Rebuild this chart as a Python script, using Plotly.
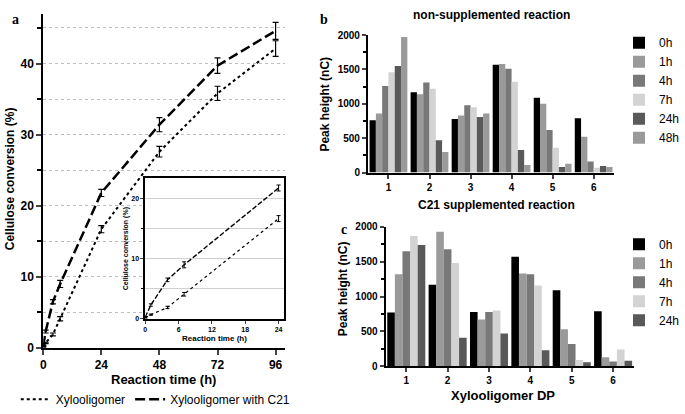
import plotly.graph_objects as go

W, H = 685, 414

# ---- Panel a data ----
time_h = [0, 1, 4, 7, 24, 48, 72, 96]
xylo = [0.2, 0.7, 1.9, 4.1, 16.7, 27.6, 35.8, 42.1]
xylo_err = [0.1, 0.1, 0.2, 0.3, 0.5, 0.75, 1.0, 1.1]
c21 = [0.3, 2.3, 6.5, 9.0, 21.8, 31.4, 39.7, 44.6]
c21_err = [0.1, 0.2, 0.3, 0.5, 0.5, 1.0, 1.1, 1.2]
inset_max_time = 24

# ---- Panel b / c data ----
dp = [1, 2, 3, 4, 5, 6]
b_series = ["0h", "1h", "4h", "7h", "24h", "48h"]
b_values = {
    "0h": [760, 1170, 780, 1570, 1090, 790],
    "1h": [860, 1140, 830, 1580, 1000, 520],
    "4h": [1260, 1310, 980, 1510, 620, 160],
    "7h": [1460, 1220, 950, 1320, 360, 70],
    "24h": [1550, 470, 810, 330, 80, 95],
    "48h": [1970, 300, 860, 110, 130, 80],
}
c_series = ["0h", "1h", "4h", "7h", "24h"]
c_values = {
    "0h": [770, 1170, 780, 1570, 1090, 790],
    "1h": [1320, 1930, 670, 1330, 530, 130],
    "4h": [1650, 1680, 780, 1320, 320, 70],
    "7h": [1870, 1480, 800, 1160, 90, 240],
    "24h": [1740, 410, 470, 230, 60, 80],
}
colors = {"0h": "#000000", "1h": "#9a9a9a", "4h": "#787878", "7h": "#d3d3d3",
          "24h": "#595959", "48h": "#9a9a9a"}

FONT = "Liberation Sans, Arial, sans-serif"

def px(x):
    return x / W

def py(y):
    return 1 - y / H

fig = go.Figure()

# main panel a
fig.add_trace(go.Scatter(x=time_h, y=xylo, mode="lines", name="Xylooligomer",
                         line=dict(color="black", width=2, dash="dot"),
                         error_y=dict(type="data", array=xylo_err, color="black", thickness=1.2, width=3),
                         xaxis="x", yaxis="y", legend="legend3"))
fig.add_trace(go.Scatter(x=time_h, y=c21, mode="lines", name="Xylooligomer with C21",
                         line=dict(color="black", width=2.5, dash="10px,4px"),
                         error_y=dict(type="data", array=c21_err, color="black", thickness=1.2, width=3),
                         xaxis="x", yaxis="y", legend="legend3"))

# inset
idx = [i for i, t in enumerate(time_h) if t <= inset_max_time]
fig.add_trace(go.Scatter(x=[time_h[i] for i in idx], y=[xylo[i] for i in idx], mode="lines",
                         line=dict(color="black", width=1.2, dash="dot"), showlegend=False,
                         error_y=dict(type="data", array=[xylo_err[i] for i in idx], color="black", thickness=1, width=2),
                         xaxis="x2", yaxis="y2"))
fig.add_trace(go.Scatter(x=[time_h[i] for i in idx], y=[c21[i] for i in idx], mode="lines",
                         line=dict(color="black", width=1.4, dash="5px,2px"), showlegend=False,
                         error_y=dict(type="data", array=[c21_err[i] for i in idx], color="black", thickness=1, width=2),
                         xaxis="x2", yaxis="y2"))

# panel b
for s in b_series:
    fig.add_trace(go.Bar(x=dp, y=b_values[s], name=s, marker=dict(color=colors[s], line=dict(width=0)),
                         xaxis="x3", yaxis="y3", legend="legend"))
# panel c
for s in c_series:
    fig.add_trace(go.Bar(x=dp, y=c_values[s], name=s, marker=dict(color=colors[s], line=dict(width=0)),
                         xaxis="x4", yaxis="y4", legend="legend2"))

bold_tick = dict(family=FONT, size=12, color="black", weight="bold")
small_tick = dict(family=FONT, size=10, color="black", weight="bold")
inset_tick = dict(family=FONT, size=7, color="black", weight="bold")

fig.update_layout(
    width=W, height=H,
    margin=dict(l=0, r=0, t=0, b=0),
    paper_bgcolor="white", plot_bgcolor="white",
    barmode="group", bargap=0.08, bargroupgap=0,
    font=dict(family=FONT, color="black"),
    xaxis=dict(domain=[px(41), px(287)], range=[0, 99.7], anchor="y",
               tickvals=[0, 24, 48, 72, 96], ticks="outside", ticklen=5, tickwidth=2,
               showline=True, linewidth=2, linecolor="black", showgrid=False, zeroline=False,
               tickfont=bold_tick),
    yaxis=dict(domain=[py(353), py(8)], range=[0, 47], anchor="x",
               dtick=10, ticks="outside", ticklen=5, tickwidth=2,
               showline=True, linewidth=2, linecolor="black", zeroline=False,
               showgrid=True, gridcolor="#bdbdbd", griddash="dot", gridwidth=1,
               minor=dict(dtick=5, ticks="outside", ticklen=4, tickwidth=2, tickcolor="black",
                          showgrid=True, gridcolor="#bdbdbd", griddash="dot", gridwidth=1),
               tickfont=bold_tick),
    xaxis2=dict(domain=[px(145), px(286)], range=[0, 24.9], anchor="y2",
                tickvals=[0, 6, 12, 18, 24], ticks="outside", ticklen=3, tickwidth=1.2,
                showline=True, linewidth=1.5, linecolor="black", mirror=True,
                showgrid=False, zeroline=False, tickfont=inset_tick,
                title=dict(text="Reaction time (h)", font=dict(family=FONT, size=8, weight="bold"), standoff=3)),
    yaxis2=dict(domain=[py(323), py(178)], range=[0, 23.4], anchor="x2",
                dtick=10, ticks="outside", ticklen=3, tickwidth=1.2,
                showline=True, linewidth=1.5, linecolor="black", mirror=True, zeroline=False,
                showgrid=True, gridcolor="#d0d0d0", gridwidth=1,
                minor=dict(dtick=5, ticks="outside", ticklen=2, tickcolor="black", showgrid=True,
                           gridcolor="#d0d0d0", gridwidth=1),
                tickfont=inset_tick,
                title=dict(text="Cellulose conversion (%)", font=dict(family=FONT, size=7, weight="bold"), standoff=2)),
    xaxis3=dict(domain=[px(372), px(623)], range=[0.5, 6.5], anchor="y3",
                tickvals=dp, ticks="outside", ticklen=4, tickwidth=2,
                showline=True, linewidth=2, linecolor="black", showgrid=False, zeroline=False,
                tickfont=small_tick),
    yaxis3=dict(domain=[py(172), py(30)], range=[0, 2000], anchor="x3",
                dtick=500, ticks="outside", ticklen=4, tickwidth=2,
                showline=True, linewidth=2, linecolor="black", showgrid=False, zeroline=False,
                minor=dict(dtick=250, ticks="outside", ticklen=3, tickwidth=1.5, tickcolor="black"),
                tickfont=small_tick),
    xaxis4=dict(domain=[px(390), px(643)], range=[0.5, 6.5], anchor="y4",
                tickvals=dp, ticks="outside", ticklen=4, tickwidth=2,
                showline=True, linewidth=2, linecolor="black", showgrid=False, zeroline=False,
                tickfont=small_tick),
    yaxis4=dict(domain=[py(372), py(228)], range=[0, 2000], anchor="x4",
                dtick=500, ticks="outside", ticklen=4, tickwidth=2,
                showline=True, linewidth=2, linecolor="black", showgrid=False, zeroline=False,
                minor=dict(dtick=250, ticks="outside", ticklen=3, tickwidth=1.5, tickcolor="black"),
                tickfont=small_tick),
    legend=dict(x=px(628), y=py(23), xanchor="left", yanchor="top", bgcolor="rgba(0,0,0,0)",
                font=dict(family=FONT, size=12), tracegroupgap=0),
    legend2=dict(x=px(628), y=py(231), xanchor="left", yanchor="top", bgcolor="rgba(0,0,0,0)",
                 font=dict(family=FONT, size=12), tracegroupgap=0),
    legend3=dict(x=px(13), y=py(406), xanchor="left", yanchor="middle", orientation="h",
                 bgcolor="rgba(0,0,0,0)", font=dict(family=FONT, size=12), itemwidth=30),
    shapes=[dict(type="rect", xref="x2 domain", yref="y2 domain", x0=0, x1=1, y0=0, y1=1,
                 fillcolor="white", line=dict(width=0), layer="below")],
)

ann = [
    dict(text="a", x=px(13), y=py(14), font=dict(family="Liberation Serif, serif", size=14, weight="bold")),
    dict(text="b", x=px(327), y=py(14), font=dict(family="Liberation Serif, serif", size=14, weight="bold")),
    dict(text="c", x=px(348), y=py(231), font=dict(family="Liberation Serif, serif", size=14, weight="bold")),
    dict(text="Cellulose conversion (%)", x=px(8), y=py(178), textangle=-90,
         font=dict(family=FONT, size=12, weight="bold")),
    dict(text="Reaction time (h)", x=px(164), y=py(386), font=dict(family=FONT, size=13, weight="bold")),
    dict(text="non-supplemented reaction", x=px(498), y=py(9), font=dict(family=FONT, size=12, weight="bold")),
    dict(text="C21 supplemented reaction", x=px(503), y=py(205), font=dict(family=FONT, size=12, weight="bold")),
    dict(text="Peak height (nC)", x=px(328), y=py(101), textangle=-90, font=dict(family=FONT, size=12, weight="bold")),
    dict(text="Peak height (nC)", x=px(346), y=py(292), textangle=-90, font=dict(family=FONT, size=12, weight="bold")),
    dict(text="Xylooligomer DP", x=px(510), y=py(402), font=dict(family=FONT, size=13, weight="bold")),
]
for a in ann:
    a.update(xref="paper", yref="paper", showarrow=False, xanchor="center", yanchor="middle")
    a["font"].setdefault("color", "black")
fig.update_layout(annotations=ann)

fig.write_html("out.html", config={"displayModeBar": False},
               post_script="document.body.style.margin='0px';document.body.style.overflow='hidden';")
